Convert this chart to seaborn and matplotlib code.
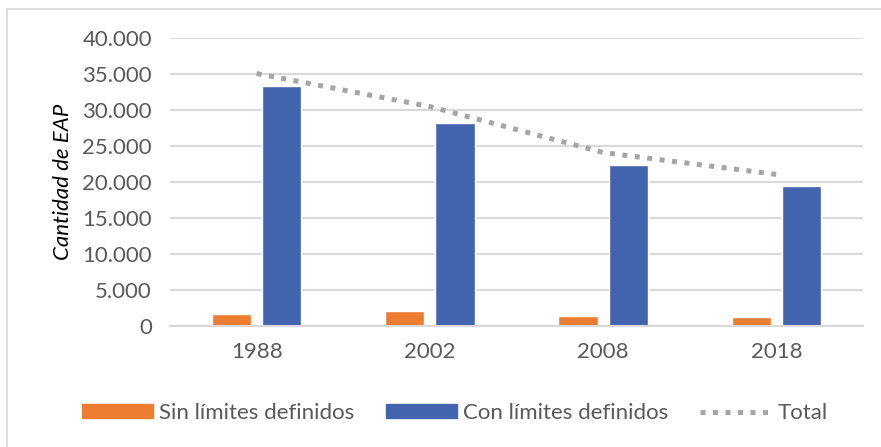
import pandas as pd
import seaborn as sns
import matplotlib.pyplot as plt
import numpy as np
from matplotlib.patches import Patch
from matplotlib.lines import Line2D
from matplotlib.ticker import FuncFormatter

# ==========================================
# DATA
# ==========================================
YEARS = ["1988", "2002", "2008", "2018"]
SIN_LIMITES = [1650, 2000, 1400, 1250]
CON_LIMITES = [33300, 28200, 22400, 19450]
TOTAL = [35100, 30500, 24100, 21050]

LABEL_SIN = "Sin límites definidos"
LABEL_CON = "Con límites definidos"
LABEL_TOTAL = "Total"

Y_TICKS = [0, 5000, 10000, 15000, 20000, 25000, 30000, 35000, 40000]

ORANGE = "#ED7D31"
BLUE = "#4264AE"
GREY_LINE = "#A5A5A5"
TEXT_GREY = "#595959"
GRID_GREY = "#D9D9D9"

FS = 16

# ==========================================


def thousands_dot(v, pos=None):
    return f"{int(v):,}".replace(",", ".")


def make_plot():
    df = pd.DataFrame({
        "Año": YEARS * 2,
        "Cantidad": SIN_LIMITES + CON_LIMITES,
        "Tipo": [LABEL_SIN] * len(YEARS) + [LABEL_CON] * len(YEARS),
    })

    sns.set_theme(style="white")
    plt.rcParams["font.family"] = ["Lato", "DejaVu Sans"]

    fig = plt.figure(figsize=(8.81, 4.47), dpi=100)
    ax = fig.add_axes([0.193, 0.2716, 0.7866, 0.6427])

    sns.barplot(
        data=df, x="Año", y="Cantidad", hue="Tipo",
        hue_order=[LABEL_SIN, LABEL_CON],
        palette=[ORANGE, BLUE], width=0.58, gap=0.22,
        ax=ax, legend=False, saturation=1,
    )

    sns.lineplot(
        x=np.arange(len(YEARS)), y=TOTAL, ax=ax, color=GREY_LINE,
        linewidth=3.6, linestyle=(0, (1, 1.5)),
    )
    ax.lines[-1].set_dash_capstyle("butt")

    ax.set_xlim(-0.5, len(YEARS) - 0.5)
    ax.set_ylim(0, 40000)
    ax.set_yticks(Y_TICKS)
    ax.yaxis.set_major_formatter(FuncFormatter(thousands_dot))
    ax.yaxis.grid(True, color=GRID_GREY, linewidth=1.5)
    ax.set_axisbelow(True)
    for s in ["top", "right", "left"]:
        ax.spines[s].set_visible(False)
    ax.spines["bottom"].set_color(GRID_GREY)
    ax.spines["bottom"].set_linewidth(1.5)

    ax.tick_params(axis="both", length=0, labelsize=FS, colors=TEXT_GREY)
    ax.tick_params(axis="y", pad=13)
    ax.tick_params(axis="x", pad=12)
    ax.set_xlabel("")
    ax.set_ylabel("Cantidad de EAP", fontsize=FS, fontstyle="italic",
                  color="black", labelpad=7)

    handles = [
        Patch(facecolor=ORANGE, edgecolor=ORANGE),
        Patch(facecolor=BLUE, edgecolor=BLUE),
        Line2D([0], [0], color=GREY_LINE, linewidth=3.6,
               linestyle=(0, (1, 1.5)), dash_capstyle="butt"),
    ]
    leg = fig.legend(
        handles, [LABEL_SIN, LABEL_CON, LABEL_TOTAL],
        loc="center", bbox_to_anchor=(0.516, 0.076), ncol=3, frameon=False,
        fontsize=FS, handlelength=3.2, handleheight=0.55,
        handletextpad=0.3, columnspacing=1.4,
    )
    for t in leg.get_texts():
        t.set_color(TEXT_GREY)

    # chart area border (left + top visible in the crop)
    W, H = 881, 447
    fig.add_artist(Line2D([7 / W, 7 / W], [0, 1 - 9 / H],
                          transform=fig.transFigure, color=GRID_GREY, linewidth=1.2))
    fig.add_artist(Line2D([7 / W, 1], [1 - 9 / H, 1 - 9 / H],
                          transform=fig.transFigure, color=GRID_GREY, linewidth=1.2))

    fig.savefig("out.png", dpi=100)


if __name__ == "__main__":
    make_plot()
